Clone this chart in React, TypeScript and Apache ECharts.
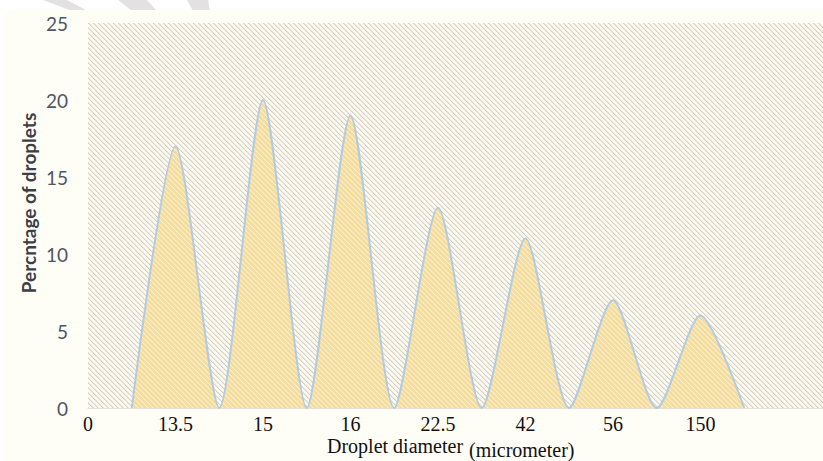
import { useEffect, useRef } from "react";
import * as echarts from "echarts";

// Droplet size classes (micrometer) and share of droplets (%) per class
const categories = ["0", "13.5", "15", "16", "22.5", "42", "56", "150"];
const percentages = [17, 20, 19, 13, 11, 7, 6];
const yTicks = [0, 5, 10, 15, 20, 25];

type RGB = [number, number, number];

// Small repeating tile with "\" diagonal hatching
function hatchPattern(bg: RGB, line: RGB, period = 5) {
  const c = document.createElement("canvas");
  c.width = period;
  c.height = period;
  const ctx = c.getContext("2d")!;
  const img = ctx.createImageData(period, period);
  for (let y = 0; y < period; y++) {
    for (let x = 0; x < period; x++) {
      const d = (((x - y) % period) + period) % period;
      const t = d === 0 ? 1 : d === 1 ? 0.45 : 0;
      const i = (y * period + x) * 4;
      for (let k = 0; k < 3; k++) img.data[i + k] = Math.round(bg[k] * (1 - t) + line[k] * t);
      img.data[i + 3] = 255;
    }
  }
  ctx.putImageData(img, 0, 0);
  return { image: c.toDataURL(), imageWidth: period, imageHeight: period, repeat: "repeat" };
}

const serif = "Liberation Serif";

export default function App() {
  const ref = useRef<HTMLDivElement>(null);

  useEffect(() => {
    if (!ref.current) return;
    const chart = echarts.init(ref.current, null, { renderer: "svg" });

    // Each class is a hump centred on its tick, returning to zero half-way between ticks
    const points: [number, number][] = [];
    percentages.forEach((v, i) => {
      points.push([i + 0.5, 0]);
      points.push([i + 1, v]);
    });
    points.push([percentages.length + 0.5, 0]);

    const plotBg = hatchPattern([251, 249, 240], [214, 208, 198]);
    const areaFill = hatchPattern([244, 220, 156], [248, 238, 205]);

    chart.setOption({
      animation: false,
      backgroundColor: "#ffffff",
      graphic: [
        // faint watermark strokes in the top margin
        { type: "polygon", z: -20, silent: true, shape: { points: [[43, 0], [67, 0], [88, 11], [72, 11]] }, style: { fill: "#e2e2e2" } },
        { type: "polygon", z: -20, silent: true, shape: { points: [[118, 0], [147, 0], [157, 11], [132, 11]] }, style: { fill: "#e2e2e2" } },
        { type: "polygon", z: -20, silent: true, shape: { points: [[187, 0], [208, 0], [210, 11], [193, 11]] }, style: { fill: "#e2e2e2" } },
        { type: "rect", z: -10, silent: true, shape: { x: 3, y: 10, width: 820, height: 451 }, style: { fill: "#fefdf6" } },
        // axis titles
        {
          type: "text",
          x: 28,
          y: 203,
          rotation: Math.PI / 2,
          silent: true,
          style: {
            text: "Percntage of droplets",
            font: "bold 19px Lato",
            fill: "#3c3f48",
            textAlign: "center",
            textVerticalAlign: "middle",
          },
        },
        {
          type: "text",
          x: 327,
          y: 446,
          silent: true,
          style: { text: "Droplet diameter", font: `20px '${serif}'`, fill: "#111", textAlign: "left", textVerticalAlign: "middle" },
        },
        {
          type: "text",
          x: 469,
          y: 450,
          silent: true,
          style: { text: "(micrometer)", font: `20px '${serif}'`, fill: "#111", textAlign: "left", textVerticalAlign: "middle" },
        },
      ],
      grid: {
        left: 88,
        right: 0,
        top: 23,
        bottom: 53,
        show: true,
        borderWidth: 0,
        backgroundColor: plotBg,
      },
      xAxis: {
        type: "value",
        min: 0,
        max: 8.4,
        interval: 1,
        axisLine: { show: true, lineStyle: { color: "#e8dfd8", width: 1 } },
        axisTick: { show: false },
        splitLine: { show: false },
        axisLabel: {
          showMaxLabel: false,
          margin: 6,
          fontFamily: serif,
          fontSize: 20,
          color: "#111",
          formatter: (v: number) => categories[Math.round(v)] ?? "",
        },
      },
      yAxis: {
        type: "value",
        min: yTicks[0],
        max: yTicks[yTicks.length - 1],
        interval: yTicks[1] - yTicks[0],
        axisLine: { show: false },
        axisTick: { show: false },
        splitLine: { show: false },
        axisLabel: { margin: 20, fontFamily: "Lato", fontSize: 19, color: "#4f5666" },
      },
      series: [
        {
          type: "line",
          data: points,
          smooth: 0.25,
          showSymbol: false,
          lineStyle: { color: "#b3cbe0", width: 2 },
          areaStyle: { color: areaFill, opacity: 1 },
        },
      ],
    });

    return () => chart.dispose();
  }, []);

  return (
    <div style={{ position: "absolute", left: 0, top: 0 }}>
      <div ref={ref} style={{ width: 823, height: 461 }} />
    </div>
  );
}
